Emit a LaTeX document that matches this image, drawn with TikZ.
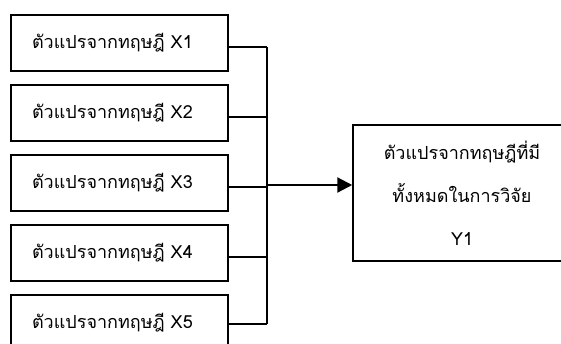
\documentclass[tikz,border=0pt]{standalone}
\usepackage{fontspec}
\newfontfamily\thaifont[Script=Thai]{Loma}
\usetikzlibrary{arrows.meta}
\tikzset{
  varbox/.style={draw, line width=1.5pt, text width=175pt, inner xsep=21pt,
    inner ysep=0pt, minimum height=56pt, align=left,
    font=\thaifont\fontsize{18}{20}\selectfont},
  link/.style={line width=2.2pt}
}
\begin{document}
\begin{tikzpicture}[x=1pt,y=1pt]
\useasboundingbox (0,0) rectangle (561,-343);
% variables from theory
\node[varbox] (x1) at (119.5,-43) {ตัวแปรจากทฤษฎี X1};
\node[varbox] (x2) at (119.5,-113) {ตัวแปรจากทฤษฎี X2};
\node[varbox] (x3) at (119.5,-183) {ตัวแปรจากทฤษฎี X3};
\node[varbox] (x4) at (119.5,-253) {ตัวแปรจากทฤษฎี X4};
\node[varbox] (x5) at (119.5,-323) {ตัวแปรจากทฤษฎี X5};
% all variables
\node[varbox, text width=176pt, minimum height=136pt, align=center,
  font=\thaifont\fontsize{18}{43}\selectfont] (y1) at (462,-193)
  {ตัวแปรจากทฤษฎีที่มี\\ทั้งหมดในการวิจัย\\Y1};
\coordinate (bus) at (267,0);
\draw[link] ([yshift=-4pt]x1.east) -- ([yshift=-4pt]x1.east -| bus);
\draw[link] ([yshift=-4pt]x2.east) -- ([yshift=-4pt]x2.east -| bus);
\draw[link] ([yshift=-4pt]x3.east) -- ([yshift=-4pt]x3.east -| bus);
\draw[link] ([yshift=-4pt]x4.east) -- ([yshift=-4pt]x4.east -| bus);
\draw[link] ([yshift=-1pt]x5.east) -- ([yshift=-1pt]x5.east -| bus);
\draw[link] ([yshift=-4pt]x1.east -| bus) -- ([yshift=-1pt]x5.east -| bus);
\draw[link, -{Triangle[length=15pt,width=15pt]}] ([yshift=-2pt]x3.east -| bus)
  -- ([yshift=-2pt]x3.east -| y1.west);
\end{tikzpicture}
\end{document}
